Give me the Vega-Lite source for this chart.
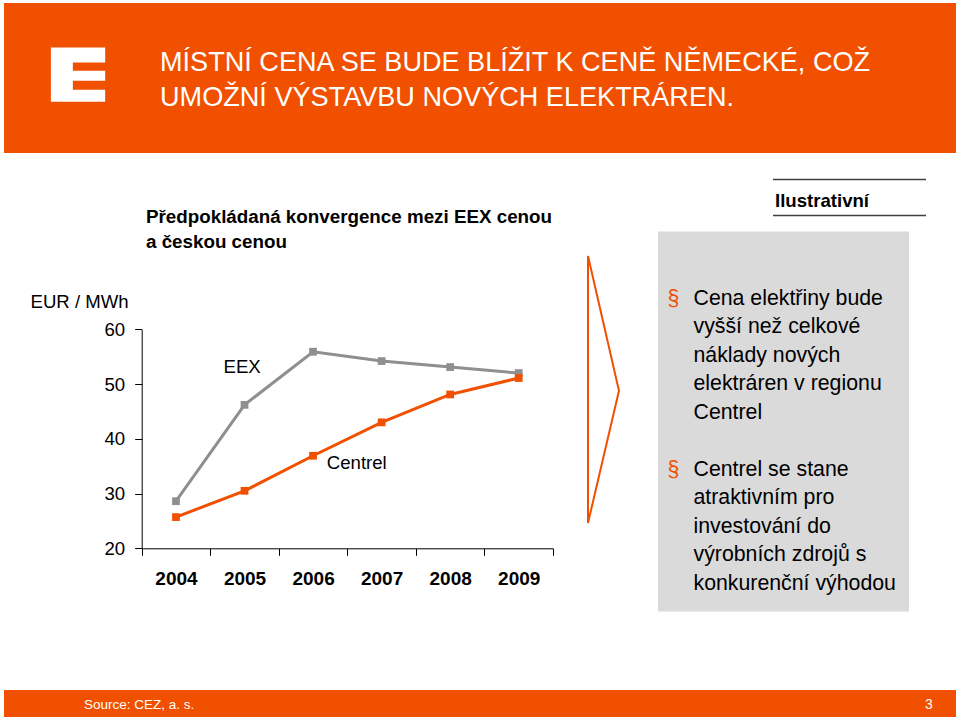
{
  "$schema": "https://vega.github.io/schema/vega-lite/v6.json",
  "background": "white",
  "padding": {"left": 4, "top": 3, "right": 3, "bottom": 4},
  "config": {"view": {"stroke": null}, "font": "Liberation Sans"},
  "spacing": 0,
  "bounds": "full",
  "vconcat": [
    {
      "width": 952,
      "height": 150,
      "view": {"fill": "#F05000", "stroke": null},
      "layer": [
        {
          "data": {"values": [{"logo": "ČEZ"}]},
          "mark": {"type": "point", "shape": "M-15.807,-1.122H-13.807V-0.570H-14.997V-0.264H-13.807V0.105H-14.997V0.436H-13.807V0.878H-15.807Z", "size": 2948, "filled": true, "color": "white", "opacity": 1}
        },
        {
          "data": {"values": [{"headline": ["MÍSTNÍ CENA SE BUDE BLÍŽIT K CENĚ NĚMECKÉ, COŽ", "UMOŽNÍ VÝSTAVBU NOVÝCH ELEKTRÁREN."]}]},
          "mark": {"type": "text", "align": "left", "baseline": "alphabetic", "dx": -320, "dy": -7, "fontSize": 27.1, "lineHeight": 35, "color": "white"},
          "encoding": {"text": {"field": "headline"}}
        }
      ]
    },
    {
      "spacing": 0,
      "bounds": "flush",
      "center": true,
      "hconcat": [
        {
          "width": 549,
          "height": 537,
          "layer": [
            {
              "data": {"name": "prices"},
              "mark": {"type": "line", "strokeWidth": 3},
              "encoding": {
                "x": {"field": "year", "type": "ordinal", "scale": {"type": "band", "range": [137.7, 549], "paddingInner": 0, "paddingOuter": 0},
                  "axis": {"orient": "bottom", "offset": -141.7, "title": null, "grid": false, "tickBand": "extent", "labelAngle": 0, "labelFontSize": 19, "labelFontWeight": "bold", "labelColor": "black", "labelPadding": 14, "tickSize": 7, "tickColor": "black", "domainColor": "black"}},
                "y": {"field": "price", "type": "quantitative", "scale": {"domain": [20, 60], "range": [395.3, 176.3], "nice": false, "zero": false},
                  "axis": {"orient": "left", "offset": -137.7, "values": [20, 30, 40, 50, 60], "grid": false, "domainColor": "black", "tickColor": "black", "tickSize": 7, "labelFontSize": 18.6, "labelColor": "black", "labelPadding": 10, "title": "EUR / MWh", "titleAngle": 0, "titleAlign": "left", "titleBaseline": "alphabetic", "titleX": -111.7, "titleY": 154, "titleFontSize": 18.6, "titleFontWeight": "normal", "titleColor": "black"}},
                "color": {"field": "series", "type": "nominal", "scale": {"domain": ["EEX", "Centrel"], "range": ["#8F8F8F", "#F05000"]}, "legend": null}
              }
            },
            {
              "data": {"name": "prices"},
              "mark": {"type": "point", "shape": "square", "filled": true, "size": 60, "opacity": 1},
              "encoding": {
                "x": {"field": "year", "type": "ordinal"},
                "y": {"field": "price", "type": "quantitative"},
                "color": {"field": "series", "type": "nominal", "legend": null}
              }
            },
            {
              "data": {"name": "prices"},
              "transform": [{"filter": "datum.series == 'EEX' && datum.year == '2005'"}],
              "mark": {"type": "text", "align": "left", "baseline": "alphabetic", "dx": -21, "dy": -32, "fontSize": 18.6, "color": "black"},
              "encoding": {
                "x": {"field": "year", "type": "ordinal"},
                "y": {"field": "price", "type": "quantitative"},
                "text": {"field": "series"}
              }
            },
            {
              "data": {"name": "prices"},
              "transform": [{"filter": "datum.series == 'Centrel' && datum.year == '2006'"}],
              "mark": {"type": "text", "align": "left", "baseline": "alphabetic", "dx": 13.7, "dy": 13, "fontSize": 18.6, "color": "black"},
              "encoding": {
                "x": {"field": "year", "type": "ordinal"},
                "y": {"field": "price", "type": "quantitative"},
                "text": {"field": "series"}
              }
            },
            {
              "data": {"values": [{"caption": ["Předpokládaná konvergence mezi EEX cenou", "a českou cenou"]}]},
              "mark": {"type": "text", "align": "left", "baseline": "alphabetic", "dx": -132.5, "dy": -199, "fontSize": 18.8, "fontWeight": "bold", "lineHeight": 25, "color": "black"},
              "encoding": {"text": {"field": "caption"}}
            }
          ]
        },
        {
          "width": 105,
          "height": 537,
          "data": {"values": [{"arrow": "konvergence"}]},
          "mark": {"type": "point", "shape": "M-0.131,-1.24L0.101,-0.231L-0.131,0.76Z", "size": 71289, "filled": false, "color": "#F05000", "strokeWidth": 2, "opacity": 1}
        },
        {
          "width": 251,
          "height": 380,
          "view": {"fill": "#DADADA", "stroke": null},
          "layer": [
            {
              "data": {"values": [{"label": "Ilustrativní"}]},
              "mark": {"type": "text", "align": "left", "baseline": "alphabetic", "dx": -8.5, "dy": -214.5, "fontSize": 18.6, "fontWeight": "bold", "color": "black"},
              "encoding": {"text": {"field": "label"}}
            },
            {
              "data": {"values": [{"frame": "Ilustrativní"}]},
              "mark": {"type": "point", "shape": "M-0.105,-2.42H1.425M-0.105,-2.06H1.425", "size": 40000, "filled": false, "color": "#404040", "strokeWidth": 1.3, "opacity": 1}
            },
            {
              "data": {"name": "bullets"},
              "mark": {"type": "text", "align": "left", "baseline": "alphabetic", "dx": -116, "fontSize": 21.3, "color": "#F05000"},
              "encoding": {
                "y": {"field": "bullet", "type": "ordinal", "scale": {"type": "point", "range": [73.5, 244.5], "padding": 0}, "axis": null},
                "text": {"field": "marker"}
              }
            },
            {
              "data": {"name": "bullets"},
              "mark": {"type": "text", "align": "left", "baseline": "alphabetic", "dx": -90, "fontSize": 21.3, "lineHeight": 28.4, "color": "black"},
              "encoding": {
                "y": {"field": "bullet", "type": "ordinal"},
                "text": {"field": "lines"}
              }
            }
          ]
        }
      ]
    },
    {
      "width": 952,
      "height": 27,
      "view": {"fill": "#F05000", "stroke": null},
      "data": {"values": [{"source": "Source: CEZ, a. s.", "page": "3"}]},
      "layer": [
        {
          "mark": {"type": "text", "align": "left", "baseline": "alphabetic", "dx": -396, "dy": 5.5, "fontSize": 13.5, "color": "white"},
          "encoding": {"text": {"field": "source"}}
        },
        {
          "mark": {"type": "text", "align": "left", "baseline": "alphabetic", "dx": 445, "dy": 5.5, "fontSize": 14, "color": "white"},
          "encoding": {"text": {"field": "page"}}
        }
      ]
    }
  ],
  "datasets": {
    "prices": [
      {"series": "EEX", "year": "2004", "price": 28.6},
      {"series": "EEX", "year": "2005", "price": 46.2},
      {"series": "EEX", "year": "2006", "price": 55.9},
      {"series": "EEX", "year": "2007", "price": 54.2},
      {"series": "EEX", "year": "2008", "price": 53.1},
      {"series": "EEX", "year": "2009", "price": 52.0},
      {"series": "Centrel", "year": "2004", "price": 25.7},
      {"series": "Centrel", "year": "2005", "price": 30.5},
      {"series": "Centrel", "year": "2006", "price": 36.9},
      {"series": "Centrel", "year": "2007", "price": 43.0},
      {"series": "Centrel", "year": "2008", "price": 48.1},
      {"series": "Centrel", "year": "2009", "price": 51.1}
    ],
    "bullets": [
      {"bullet": "1", "marker": "§", "lines": ["Cena elektřiny bude", "vyšší než celkové", "náklady nových", "elektráren v regionu", "Centrel"]},
      {"bullet": "2", "marker": "§", "lines": ["Centrel se stane", "atraktivním pro", "investování do", "výrobních zdrojů s", "konkurenční výhodou"]}
    ]
  }
}
